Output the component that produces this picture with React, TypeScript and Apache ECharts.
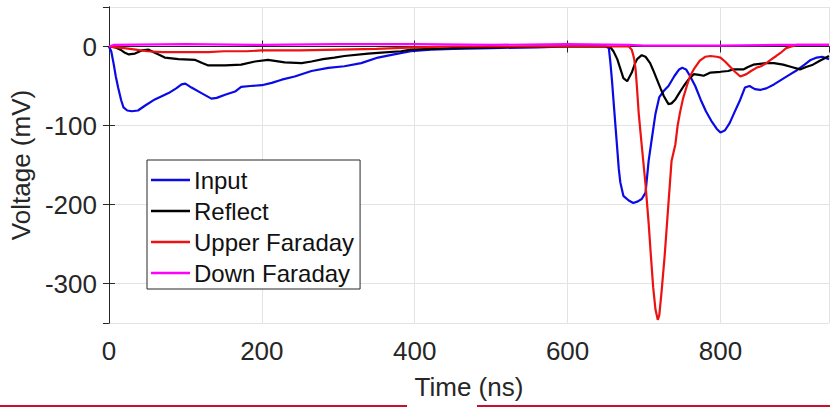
import React, { useEffect, useRef } from "react";
import * as echarts from "echarts";

const seriesNames = ["Input", "Reflect", "Upper Faraday", "Down Faraday"];

const inputTime = [0, 3, 6, 9, 12, 16, 19, 24, 30, 38, 47, 60, 78, 88, 95, 100, 108, 121, 134, 141, 152, 165, 173, 185, 200, 213, 226, 243, 265, 287, 308, 330, 352, 373, 395, 421, 450, 500, 560, 600, 650, 654, 656, 658, 661, 663, 665, 667, 669, 673, 680, 686, 692, 697, 702, 706, 710, 715, 720, 726, 732, 740, 746, 750, 755, 760, 767, 774, 781, 788, 795, 800, 806, 812, 818, 826, 832, 838, 845, 852, 860, 870, 880, 890, 900, 910, 918, 926, 933, 942];
const inputVolt = [0, -6, -21, -38, -52, -68, -77, -81, -82, -81, -75, -67, -59, -53, -48, -47, -52, -59, -66, -65, -61, -57, -51, -50, -49, -46, -42, -38, -31, -27, -25, -21, -14, -10, -6, -4, -3, -2, -1, 0, 0, -2, -20, -42, -80, -105, -130, -155, -172, -189, -195, -198, -196, -193, -185, -145, -118, -85, -64, -56, -50, -37, -29, -27, -29, -37, -50, -67, -82, -94, -104, -109, -106, -97, -84, -67, -52, -50, -54, -55, -53, -48, -42, -36, -30, -23, -17, -14, -13, -16];

const reflectTime = [0, 8, 15, 21, 26, 34, 43, 52, 60, 67, 73, 91, 113, 122, 130, 152, 173, 191, 208, 230, 252, 265, 280, 295, 308, 339, 352, 382, 395, 421, 450, 500, 560, 650, 656, 660, 665, 669, 673, 678, 684, 688, 691, 697, 702, 708, 712, 717, 722, 726, 732, 736, 741, 746, 752, 758, 765, 772, 778, 787, 800, 810, 817, 830, 836, 843, 860, 870, 882, 893, 904, 912, 921, 930, 942];
const reflectVolt = [0, -1, -4, -8, -10, -9, -5, -4, -8, -11, -14, -16, -17, -21, -24, -24, -23, -19, -17, -20, -21, -19, -16, -14, -12, -9, -8, -6, -4, -3, -2, -1, 0, 0, -1, -6, -16, -28, -40, -44, -33, -22, -16, -11, -13, -21, -30, -42, -54, -63, -73, -72, -67, -59, -50, -42, -35, -36, -37, -33, -32, -31, -29, -29, -26, -23, -21, -21, -23, -26, -29, -26, -23, -18, -12];

const upperTime = [0, 10, 20, 35, 50, 70, 100, 130, 150, 180, 200, 250, 300, 350, 400, 450, 500, 600, 680, 684, 687, 689, 691, 693, 697, 702, 706, 709, 712, 715, 718, 720, 723, 727, 730, 733, 736, 741, 744, 747, 751, 756, 760, 765, 773, 780, 787, 795, 800, 806, 812, 819, 826, 834, 840, 847, 853, 860, 867, 873, 880, 886, 893, 900, 920, 942];
const upperVolt = [0, -1, -2, -4, -6, -7, -7, -7, -6, -6, -5, -5, -4, -3, -1, 0, 0, 0, 0, -4, -15, -29, -55, -84, -125, -175, -223, -265, -305, -333, -346, -340, -310, -265, -225, -185, -145, -124, -100, -84, -66, -50, -38, -29, -18, -13, -12, -13, -14, -19, -25, -32, -38, -35, -31, -27, -25, -21, -16, -12, -7, -2, 0, 2, 2, 2];

const downTime = [0, 6, 100, 200, 300, 400, 500, 600, 680, 700, 800, 880, 942];
const downVolt = [0, 2, 3, 2, 3, 3, 2, 3, 2, 1, 1, 2, 2];

const xTicks = [0, 200, 400, 600, 800];
const yTicks = [-300, -200, -100, 0];

const colors = ["#0a0ae6", "#000000", "#ee1111", "#ff00ff"];

export default function App() {
  const ref = useRef<HTMLDivElement>(null);
  useEffect(() => {
    const chart = echarts.init(ref.current!, undefined, { renderer: "svg" });
    const pairs = (t: number[], v: number[]) => t.map((x, i) => [x, v[i]]);
    const datasets = [
      pairs(inputTime, inputVolt),
      pairs(reflectTime, reflectVolt),
      pairs(upperTime, upperVolt),
      pairs(downTime, downVolt),
    ];
    const font = "'Liberation Sans', Arial, sans-serif";
    const axisColor = "#262626";
    const gridColor = "#e3e3e3";
    chart.setOption({
      animation: false,
      backgroundColor: "#ffffff",
      grid: { left: 107, top: 7, width: 722, height: 316, containLabel: false },
      legend: {
        orient: "vertical",
        left: 147,
        top: 160,
        padding: [8, 6, 4, 4],
        itemGap: 7,
        itemWidth: 39,
        itemHeight: 2.5,
        icon: "rect",
        backgroundColor: "#ffffff",
        borderColor: axisColor,
        borderWidth: 1,
        borderRadius: 0,
        textStyle: { fontFamily: font, fontSize: 24, color: "#111", padding: [0, 0, 0, -1] },
        data: seriesNames,
      },
      xAxis: [
        {
          type: "value",
          min: 0,
          max: 942,
          interval: 200,
          name: "Time (ns)",
          nameLocation: "middle",
          nameGap: 51,
          nameTextStyle: { fontFamily: font, fontSize: 26, color: axisColor },
          axisLine: { show: true, lineStyle: { color: axisColor, width: 1 } },
          axisTick: { show: true, inside: true, length: 6, lineStyle: { color: axisColor } },
          axisLabel: {
            fontFamily: font, fontSize: 26, color: axisColor, margin: 15,
            showMaxLabel: false,
            formatter: (v: number) => (xTicks.includes(v) ? String(v) : ""),
          },
          splitLine: { show: true, lineStyle: { color: gridColor, width: 1 } },
        },
        {
          type: "value",
          position: "top",
          min: 0,
          max: 942,
          interval: 200,
          axisLine: { show: true, lineStyle: { color: axisColor, width: 1 } },
          axisTick: { show: true, inside: true, length: 6, lineStyle: { color: axisColor } },
          axisLabel: { show: false },
          splitLine: { show: false },
        },
      ],
      yAxis: [
        {
          type: "value",
          min: -350,
          max: 50,
          splitNumber: 4,
          name: "Voltage (mV)",
          nameLocation: "middle",
          nameGap: 70,
          nameTextStyle: { fontFamily: font, fontSize: 26, color: axisColor },
          axisLine: { show: true, lineStyle: { color: axisColor, width: 1 } },
          axisTick: { show: true, inside: true, length: 6, lineStyle: { color: axisColor } },
          axisLabel: {
            fontFamily: font, fontSize: 26, color: axisColor, margin: 12,
            showMinLabel: false, showMaxLabel: false,
            formatter: (v: number) => (yTicks.includes(v) ? String(v) : ""),
          },
          splitLine: { show: true, lineStyle: { color: gridColor, width: 1 } },
        },
        {
          type: "value",
          position: "right",
          min: -350,
          max: 50,
          splitNumber: 4,
          axisLine: { show: true, lineStyle: { color: axisColor, width: 1 } },
          axisTick: { show: true, inside: true, length: 6, lineStyle: { color: axisColor } },
          axisLabel: { show: false },
          splitLine: { show: false },
        },
      ],
      series: seriesNames.map((name, i) => ({
        name,
        type: "line",
        xAxisIndex: 0,
        yAxisIndex: 0,
        data: datasets[i],
        symbol: "none",
        showSymbol: false,
        lineStyle: { color: colors[i], width: 2.2 },
        itemStyle: { color: colors[i] },
        z: 2 + i,
      })),
      graphic: [
        { type: "rect", left: 0, top: 405, shape: { width: 407, height: 2 }, style: { fill: "#c8102e" } },
        { type: "rect", left: 477, top: 405, shape: { width: 353, height: 2 }, style: { fill: "#c8102e" } },
      ],
    });
    return () => chart.dispose();
  }, []);
  return (
    <div
      ref={ref}
      style={{ position: "fixed", left: 0, top: 0, width: 830, height: 407, background: "#fff" }}
    />
  );
}
